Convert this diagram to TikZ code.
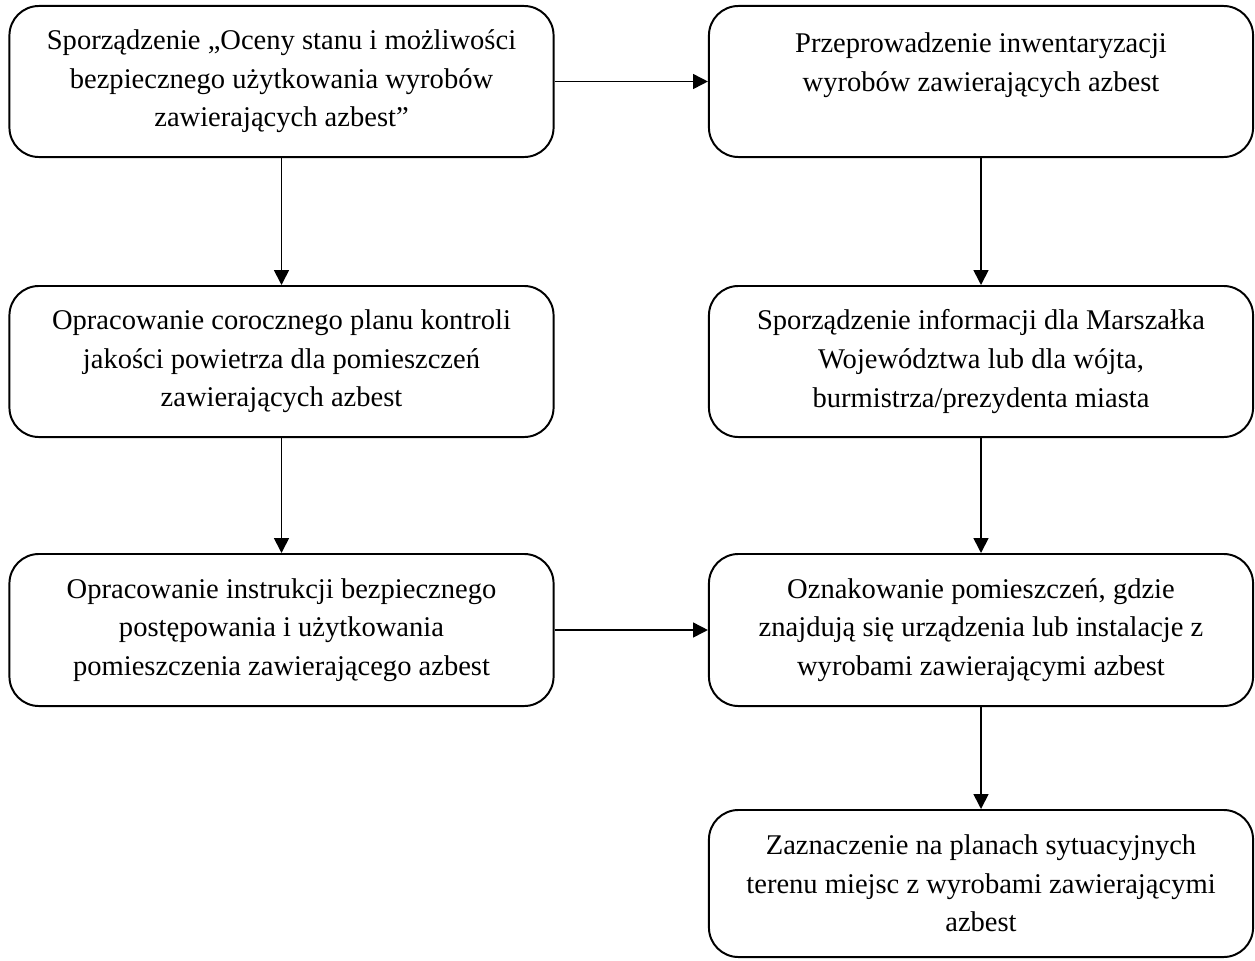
\documentclass[tikz,border=0pt]{standalone}
\usepackage{fontspec}
\setmainfont{Liberation Serif}
\usetikzlibrary{arrows.meta}
\begin{document}
\begin{tikzpicture}[x=0.025cm, y=-0.025cm,
	krok/.style={draw, line width=1.4pt, rounded corners=21pt, align=center, inner sep=0pt,
		minimum width=13.6cm, minimum height=3.775cm, font=\fontsize{20.3}{27.4}\selectfont},
	strzalka/.style={line width=1.2pt, -{Triangle[length=10.5pt, width=10.5pt]}}]
	\useasboundingbox (0, 0) rectangle (1255, 960);
	% lewa kolumna
	\node[krok] (ocena) at (281.5, 81.5) {Sporządzenie „Oceny stanu i możliwości\\ bezpiecznego użytkowania wyrobów\\ zawierających azbest”};
	\node[krok] (plan) at (281.5, 361.5) {Opracowanie corocznego planu kontroli\\ jakości powietrza dla pomieszczeń\\ zawierających azbest};
	\node[krok, minimum height=3.8cm] (instrukcja) at (281.5, 630) {Opracowanie instrukcji bezpiecznego\\ postępowania i użytkowania\\ pomieszczenia zawierającego azbest};
	% prawa kolumna
	\node[krok] (inwent) at (981, 81.5) {Przeprowadzenie inwentaryzacji\\ wyrobów zawierających azbest\\ \mbox{}};
	\node[krok] (informacja) at (981, 361.5) {Sporządzenie informacji dla Marszałka\\ Województwa lub dla wójta,\\ burmistrza/prezydenta miasta};
	\node[krok, minimum height=3.8cm] (oznakowanie) at (981, 630) {Oznakowanie pomieszczeń, gdzie\\ znajdują się urządzenia lub instalacje z\\ wyrobami zawierającymi azbest};
	\node[krok, minimum height=3.675cm] (zaznaczenie) at (981, 883.5) {Zaznaczenie na planach sytuacyjnych\\ terenu miejsc z wyrobami zawierającymi\\ azbest};
	% strzalki
	\draw[strzalka] (ocena) -- (inwent);
	\draw[strzalka] (ocena) -- (plan);
	\draw[strzalka] (plan) -- (instrukcja);
	\draw[strzalka] (instrukcja) -- (oznakowanie);
	\draw[strzalka] (inwent) -- (informacja);
	\draw[strzalka] (informacja) -- (oznakowanie);
	\draw[strzalka] (oznakowanie) -- (zaznaczenie);
\end{tikzpicture}
\end{document}
